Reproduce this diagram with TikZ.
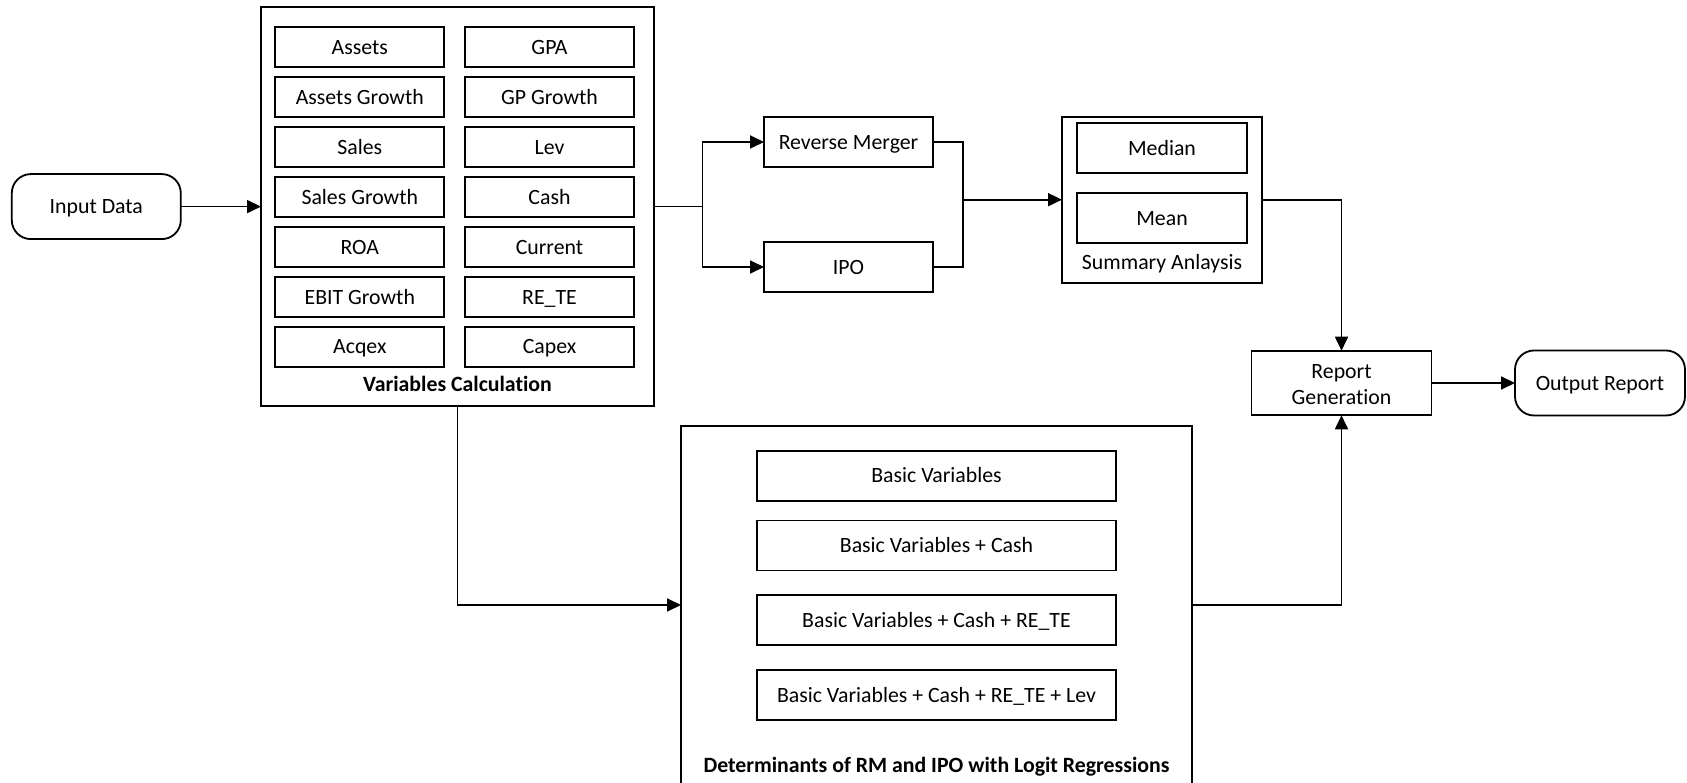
\documentclass[tikz,border=0pt]{standalone}
\usepackage{fontspec}
\setmainfont{Carlito}[Ligatures=NoCommon]
\usetikzlibrary{arrows.meta}
\begin{document}
\begin{tikzpicture}[x=1pt,y=-1pt,
  font=\fontsize{21.8}{26}\selectfont,
  every node/.style={inner sep=0pt, outer sep=0pt, align=center,
    text height=14.2pt, text depth=0pt},
  frame/.style={draw, line width=1.8pt},
  cell/.style={frame, minimum width=169pt, minimum height=40pt},
  pill/.style={frame, rounded corners=19pt, minimum width=169pt, minimum height=65pt},
  flow/.style={line width=1.8pt},
  arr/.style={flow, -{Triangle[length=14pt,width=13pt]}},
  caption/.style={font=\fontsize{21.8}{26}\selectfont\bfseries}
]
\useasboundingbox (0,0) rectangle (1687,783);

% input terminal
\node[pill] (in) at (96.3,206.6) {Input Data};

% variables calculation group
\node[frame, minimum width=393pt, minimum height=398.5pt] (vc) at (457.5,206.6) {};
\node[cell] (v11) at (359.8,47.3)  {Assets};
\node[cell] (v12) at (549.5,47.3)  {GPA};
\node[cell] (v21) at (359.8,97.3)  {Assets Growth};
\node[cell] (v22) at (549.5,97.3)  {GP Growth};
\node[cell] (v31) at (359.8,147.3) {Sales};
\node[cell] (v32) at (549.5,147.3) {Lev};
\node[cell] (v41) at (359.8,197.3) {Sales Growth};
\node[cell] (v42) at (549.5,197.3) {Cash};
\node[cell] (v51) at (359.8,247.3) {ROA};
\node[cell] (v52) at (549.5,247.3) {Current};
\node[cell] (v61) at (359.8,297.3) {EBIT Growth};
\node[cell] (v62) at (549.5,297.3) {RE\_TE};
\node[cell] (v71) at (359.8,346.8) {Acqex};
\node[cell] (v72) at (549.5,346.8) {Capex};
\node[caption] (vct) at (457.5,384.5) {Variables Calculation};

% sample split
\node[frame, minimum width=169pt, minimum height=50pt] (rm)  at (848.5,142) {Reverse Merger};
\node[frame, minimum width=169pt, minimum height=50pt] (ipo) at (848.5,267) {IPO};
\coordinate (split) at (702.5,206.6);
\coordinate (merge) at (963,199.7);

% summary analysis group
\node[frame, minimum width=200pt, minimum height=166pt] (sum) at (1162,199.7) {};
\node[frame, minimum width=170pt, minimum height=50pt] (med)  at (1162,148) {Median};
\node[frame, minimum width=170pt, minimum height=50pt] (mean) at (1162,218) {Mean};
\node (sumt) at (1162,262) {Summary Anlaysis};

% report generation and output
\node[frame, minimum width=180pt, minimum height=64.6pt, text height=, text depth=]
  (rg) at (1341.5,383) {\rule{0pt}{17pt}Report\\Generation};
\node[pill, minimum width=170pt] (out) at (1600,383) {Output Report};

% logit regressions group
\node[frame, minimum width=511pt, minimum height=358pt] (det) at (936.5,605) {};
\node[frame, minimum width=359pt, minimum height=50pt] (d1) at (936.5,475.7) {Basic Variables};
\node[frame, minimum width=359pt, minimum height=50pt] (d2) at (936.5,545.5) {Basic Variables + Cash};
\node[frame, minimum width=359pt, minimum height=50pt] (d3) at (936.5,620.3) {Basic Variables + Cash + RE\_TE};
\node[frame, minimum width=359pt, minimum height=50pt] (d4) at (936.5,695)   {Basic Variables + Cash + RE\_TE + Lev};
\node[caption] (dett) at (936.5,765) {Determinants of RM and IPO with Logit Regressions};

% connectors
\draw[arr] (in.east) -- (vc.west);
\draw[flow] (vc.east) -- (split);
\draw[arr] (split) |- (rm.west);
\draw[arr] (split) |- (ipo.west);
\draw[flow] (rm.east) -| (merge);
\draw[flow] (ipo.east) -| (merge);
\draw[arr] (merge) -- (sum.west);
\draw[arr] (sum.east) -| (rg.north);
\draw[arr] (vc.south) |- (det.west);
\draw[arr] (det.east) -| (rg.south);
\draw[arr] (rg.east) -- (out.west);
\end{tikzpicture}
\end{document}
